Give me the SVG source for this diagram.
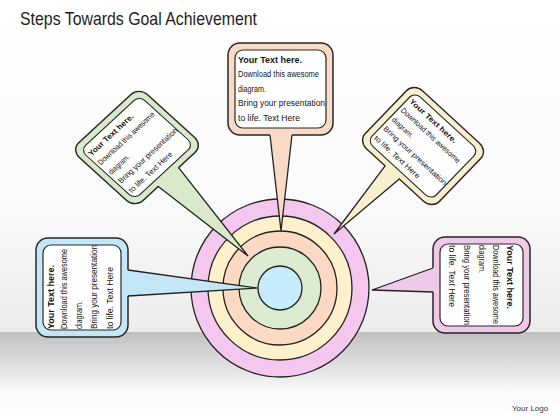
<svg xmlns="http://www.w3.org/2000/svg" width="560" height="420" viewBox="0 0 560 420">
<defs>
<style>
.frame{stroke:#262626;stroke-width:1.5}
.panel{fill:#ffffff;stroke:#262626;stroke-width:1.2}
.t{font-family:"Liberation Sans",Arial,sans-serif;font-size:8.5px;fill:#141414}
.b{font-weight:bold}
.ring{stroke:#222222;stroke-width:1.3}
.edge{fill:none;stroke:#222222;stroke-width:1.3;stroke-linejoin:miter}
.title{font-family:"Liberation Sans",Arial,sans-serif;font-size:19px;fill:#1e1e1e}
</style>
<linearGradient id="wall" x1="0" y1="0" x2="0" y2="1">
<stop offset="0" stop-color="#ffffff"/>
<stop offset="0.6" stop-color="#fafafa"/>
<stop offset="1" stop-color="#ececec"/>
</linearGradient>
<linearGradient id="floor" x1="0" y1="0" x2="0" y2="1">
<stop offset="0" stop-color="#c0c0c0"/>
<stop offset="0.7" stop-color="#fbfbfb"/>
<stop offset="1" stop-color="#ffffff"/>
</linearGradient>
</defs>

<rect x="0" y="0" width="560" height="332" fill="url(#wall)"/>
<rect x="0" y="332" width="560" height="88" fill="url(#floor)"/>

<text class="title" x="20" y="25" textLength="237" lengthAdjust="spacingAndGlyphs">Steps Towards Goal Achievement</text>

<g id="target">
<circle class="ring" cx="280" cy="288" r="89" fill="#f4c8ee"/>
<circle class="ring" cx="280" cy="288" r="72" fill="#fdf1cc"/>
<circle class="ring" cx="280" cy="288" r="57" fill="#fbd9c2"/>
<circle class="ring" cx="280" cy="288" r="41" fill="#dcecd0"/>
<circle class="ring" cx="280" cy="288" r="22" fill="#c6ebfb"/>
</g>

<g id="box-top" transform="translate(228,43)">
<rect class="frame" width="105" height="92" rx="12" fill="#f9dac4"/>
<rect class="panel" x="7" y="7" width="91" height="78" rx="8"/>
<text class="t b" x="10" y="20" textLength="64" lengthAdjust="spacingAndGlyphs">Your Text here.</text>
<text class="t" x="10" y="34" textLength="81" lengthAdjust="spacingAndGlyphs">Download this awesome</text>
<text class="t" x="10" y="49" textLength="28" lengthAdjust="spacingAndGlyphs">diagram.</text>
<text class="t" x="10" y="63" textLength="87" lengthAdjust="spacingAndGlyphs">Bring your presentation</text>
<text class="t" x="10" y="78" textLength="62" lengthAdjust="spacingAndGlyphs">to life. Text Here</text>
</g>

<g id="box-green" transform="matrix(0.6476,-0.6,0.6957,0.6304,71,150)">
<rect class="frame" width="105" height="92" rx="12" fill="#d9e9cb"/>
<rect class="panel" x="7" y="7" width="91" height="78" rx="8"/>
<text class="t b" x="10" y="20" textLength="66" lengthAdjust="spacingAndGlyphs">Your Text here.</text>
<text class="t" x="10" y="34" textLength="84" lengthAdjust="spacingAndGlyphs">Download this awesome</text>
<text class="t" x="10" y="49" textLength="29" lengthAdjust="spacingAndGlyphs">diagram.</text>
<text class="t" x="10" y="63" textLength="88" lengthAdjust="spacingAndGlyphs">Bring your presentation</text>
<text class="t" x="10" y="78" textLength="64" lengthAdjust="spacingAndGlyphs">to life. Text Here</text>
</g>

<g id="box-yellow" transform="matrix(0.7048,0.6476,-0.6087,0.6304,414,83)">
<rect class="frame" width="105" height="92" rx="12" fill="#f8efce"/>
<rect class="panel" x="7" y="7" width="91" height="78" rx="8"/>
<text class="t b" x="10" y="20" textLength="64" lengthAdjust="spacingAndGlyphs">Your Text here.</text>
<text class="t" x="10" y="34" textLength="81" lengthAdjust="spacingAndGlyphs">Download this awesome</text>
<text class="t" x="10" y="49" textLength="28" lengthAdjust="spacingAndGlyphs">diagram.</text>
<text class="t" x="10" y="63" textLength="87" lengthAdjust="spacingAndGlyphs">Bring your presentation</text>
<text class="t" x="10" y="78" textLength="62" lengthAdjust="spacingAndGlyphs">to life. Text Here</text>
</g>

<g id="box-blue" transform="translate(36,337) rotate(-90)">
<rect class="frame" width="99" height="92" rx="12" fill="#c3e7f7"/>
<rect class="panel" x="7" y="7" width="85" height="78" rx="8"/>
<text class="t b" x="8" y="18" textLength="64" lengthAdjust="spacingAndGlyphs">Your Text here.</text>
<text class="t" x="8" y="31" textLength="80" lengthAdjust="spacingAndGlyphs">Download this awesome</text>
<text class="t" x="8" y="46" textLength="28" lengthAdjust="spacingAndGlyphs">diagram.</text>
<text class="t" x="8" y="61" textLength="84" lengthAdjust="spacingAndGlyphs">Bring your presentation</text>
<text class="t" x="8" y="77" textLength="62" lengthAdjust="spacingAndGlyphs">to life. Text Here</text>
</g>

<g id="box-pink" transform="translate(530,237) rotate(90)">
<rect class="frame" width="96" height="97" rx="12" fill="#efc9e8"/>
<rect class="panel" x="7" y="7" width="82" height="83" rx="8"/>
<text class="t b" x="8" y="23" textLength="64" lengthAdjust="spacingAndGlyphs">Your Text here.</text>
<text class="t" x="8" y="37" textLength="79" lengthAdjust="spacingAndGlyphs">Download this awesome</text>
<text class="t" x="8" y="51" textLength="28" lengthAdjust="spacingAndGlyphs">diagram.</text>
<text class="t" x="8" y="66" textLength="80" lengthAdjust="spacingAndGlyphs">Bring your presentation</text>
<text class="t" x="8" y="81" textLength="62" lengthAdjust="spacingAndGlyphs">to life. Text Here</text>
</g>

<g id="connectors">
<polygon points="269.5,131 292.5,131 281,231" fill="#f9dac4"/>
<path class="edge" d="M270,135 L281,231 L292,135"/>
<polygon points="155.9,183.8 176.2,165 248,256" fill="#d9e9cb"/>
<path class="edge" d="M158.3,186.4 L248,256 L178.6,167.6"/>
<polygon points="387.5,163.3 401.7,176.3 334,234" fill="#f8efce"/>
<path class="edge" d="M385.1,165.9 L334,234 L399.3,178.9"/>
<polygon points="124,269.4 124,296.3 257,288" fill="#c3e7f7"/>
<path class="edge" d="M128,270 L257,288 L128,296"/>
<polygon points="437,266.6 437,292.1 372,290" fill="#efc9e8"/>
<path class="edge" d="M433,268 L372,290 L433,292"/>
</g>

<text x="512" y="411" style="font-family:'Liberation Sans',Arial,sans-serif;font-size:8px;fill:#333333">Your Logo</text>
</svg>
